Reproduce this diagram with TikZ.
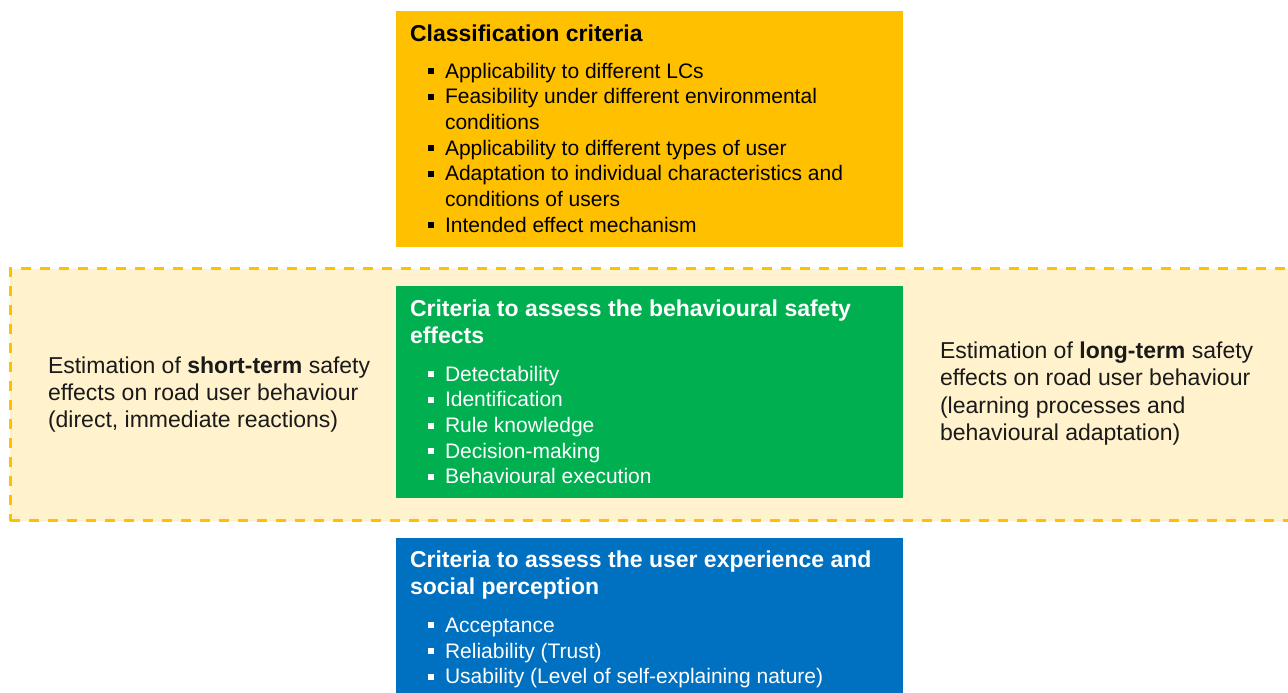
\documentclass[tikz,border=0pt]{standalone}
\usepackage{fontspec}
\setmainfont{Liberation Sans}
\definecolor{ygold}{HTML}{FFC000}
\definecolor{ylight}{HTML}{FFF2CC}
\definecolor{ggreen}{HTML}{00B050}
\definecolor{bblue}{HTML}{0070C0}
\definecolor{txtdark}{HTML}{1A1A1A}
\newcommand\bulsq{\makebox[17pt][l]{\rule[4pt]{6pt}{6pt}}}
\tikzset{
  panel/.style={rectangle, draw=none, inner sep=0pt, outer sep=0pt, anchor=north west},
  ln/.style={anchor=base west, inner sep=0pt, outer sep=0pt},
  ttl/.style={ln, font=\fontsize{23}{27}\selectfont\bfseries},
  itm/.style={ln, font=\fontsize{21}{25}\selectfont},
  side/.style={ln, font=\fontsize{23}{27}\selectfont, text=txtdark},
}
\begin{document}
\begin{tikzpicture}[x=1pt,y=-1pt]
\fill[white] (0,0) rectangle (1288,693);
\useasboundingbox (0,0) rectangle (1288,693);

% Classification criteria (yellow)
\node[panel, fill=ygold, minimum width=507pt, minimum height=236pt] (cc) at (396,11) {};
\node[ttl] (cct) at (410,41.5) {Classification criteria};
\node[itm] (c1) at (428,78) {\bulsq Applicability to different LCs};
\node[itm] (c2) at (428,103.7) {\bulsq Feasibility under different environmental};
\node[itm] (c2b) at (445,129.4) {conditions};
\node[itm] (c3) at (428,155) {\bulsq Applicability to different types of user};
\node[itm] (c4) at (428,180.8) {\bulsq Adaptation to individual characteristics and};
\node[itm] (c4b) at (445,206.5) {conditions of users};
\node[itm] (c5) at (428,232) {\bulsq Intended effect mechanism};

% Dashed zone
\node[panel, fill=ylight, draw=ygold, line width=3pt, dash pattern=on 10pt off 9pt,
      minimum width=1300pt, minimum height=252pt] (dz) at (10,268.5) {};

% Green box
\node[panel, fill=ggreen, minimum width=507pt, minimum height=212pt] (gb) at (396,286) {};
\node[ttl, text=white] (gt1) at (410,316.5) {Criteria to assess the behavioural safety};
\node[ttl, text=white] (gt2) at (410,343.8) {effects};
\node[itm, text=white] (g1) at (428,381) {\bulsq Detectability};
\node[itm, text=white] (g2) at (428,406.8) {\bulsq Identification};
\node[itm, text=white] (g3) at (428,432.6) {\bulsq Rule knowledge};
\node[itm, text=white] (g4) at (428,458.3) {\bulsq Decision-making};
\node[itm, text=white] (g5) at (428,483.8) {\bulsq Behavioural execution};

% Side texts
\node[side] (lt1) at (48,373.2) {Estimation of \textbf{short-term} safety};
\node[side] (lt2) at (48,400.5) {effects on road user behaviour};
\node[side] (lt3) at (48,427.5) {(direct, immediate reactions)};
\node[side] (rt1) at (940,358.2) {Estimation of \textbf{long-term} safety};
\node[side] (rt2) at (940,385.7) {effects on road user behaviour};
\node[side] (rt3) at (940,413.2) {(learning processes and};
\node[side] (rt4) at (940,440.7) {behavioural adaptation)};

% Blue box
\node[panel, fill=bblue, minimum width=507pt, minimum height=160pt] (bb) at (396,537.5) {};
\node[ttl, text=white] (bt1) at (410,567.2) {Criteria to assess the user experience and};
\node[ttl, text=white] (bt2) at (410,594.2) {social perception};
\node[itm, text=white] (b1) at (428,632) {\bulsq Acceptance};
\node[itm, text=white] (b2) at (428,658) {\bulsq Reliability (Trust)};
\node[itm, text=white] (b3) at (428,683.8) {\bulsq Usability (Level of self-explaining nature)};
\end{tikzpicture}
\end{document}
